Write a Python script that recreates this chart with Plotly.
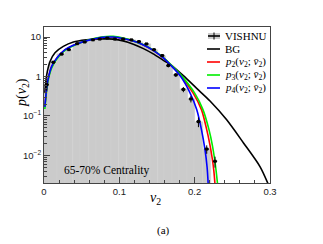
import plotly.graph_objects as go

# ---------------- data ----------------
# VISHNU histogram points
vishnu_x = [0.0036, 0.0124, 0.0234, 0.033, 0.044, 0.054, 0.065, 0.074, 0.084, 0.094, 0.105,
            0.116, 0.126, 0.136, 0.146, 0.157, 0.165, 0.175, 0.185, 0.195, 0.205, 0.216, 0.227]
vishnu_y = [0.62, 2.3, 3.7, 4.8, 6.8, 7.5, 8.5, 8.9, 9.4, 8.9, 8.9,
            8.5, 7.7, 6.7, 4.8, 3.4, 1.9, 1.1, 0.47, 0.27, 0.072, 0.0145, 0.0071]
vishnu_err = [0.18, 0.2, 0.25, 0.3, 0.35, 0.35, 0.4, 0.4, 0.4, 0.4, 0.4,
              0.4, 0.35, 0.3, 0.3, 0.25, 0.2, 0.13, 0.07, 0.05, 0.02, 0.0035, 0.0022]

# Bessel-Gaussian
bg_x = [0.0011, 0.0036, 0.008, 0.0146, 0.0256, 0.039, 0.0567, 0.072, 0.085, 0.092, 0.105,
        0.1186, 0.132, 0.145, 0.158, 0.168, 0.185, 0.2027, 0.2204, 0.2425, 0.2646, 0.2867, 0.298]
bg_y = [0.38, 1.1, 2.4, 4.0, 5.8, 7.5, 8.5, 8.95, 9.0, 8.85, 8.0,
        6.6, 5.1, 3.75, 2.6, 2.0, 1.05, 0.5, 0.24, 0.08, 0.021, 0.0052, 0.0018]

# p2 (red)
p2_x = [0.0011, 0.0036, 0.0057, 0.0102, 0.0168, 0.0279, 0.0434, 0.061, 0.0788, 0.092, 0.105,
        0.1186, 0.132, 0.145, 0.158, 0.168, 0.1815, 0.198, 0.209, 0.216, 0.2204, 0.2235, 0.2255, 0.227]
p2_y = [0.17, 0.5, 0.9, 1.78, 2.88, 4.75, 6.7, 8.55, 9.95, 10.1, 9.25,
        7.95, 6.3, 4.6, 3.0, 2.0, 1.05, 0.38, 0.145, 0.045, 0.018, 0.008, 0.004, 0.0018]

# p3 (green)
p3_x = [0.0011, 0.0036, 0.0057, 0.0102, 0.0168, 0.0279, 0.0434, 0.061, 0.0788, 0.092, 0.105,
        0.1186, 0.132, 0.145, 0.158, 0.168, 0.1815, 0.2, 0.211, 0.219, 0.2235, 0.2265, 0.2285, 0.2305]
p3_y = [0.15, 0.46, 0.83, 1.65, 2.75, 4.6, 6.6, 8.6, 10.2, 10.4, 9.4,
        8.0, 6.35, 4.65, 3.05, 2.05, 1.1, 0.38, 0.145, 0.045, 0.018, 0.008, 0.004, 0.0018]

# p4 (blue)
p4_x = [0.0011, 0.0036, 0.0057, 0.0102, 0.0168, 0.0279, 0.0434, 0.061, 0.0788, 0.092, 0.105,
        0.1186, 0.132, 0.145, 0.158, 0.168, 0.1815, 0.194, 0.2027, 0.209, 0.2137, 0.2165, 0.218]
p4_y = [0.17, 0.51, 0.91, 1.8, 2.9, 4.8, 6.7, 8.5, 9.9, 10.0, 9.2,
        7.9, 6.3, 4.6, 3.0, 1.95, 1.0, 0.38, 0.145, 0.045, 0.014, 0.005, 0.0018]

legend_labels = ["VISHNU", "BG",
                 "<i>p</i><sub>2</sub>(<i>v</i><sub>2</sub>; <i>v̄</i><sub>2</sub>)",
                 "<i>p</i><sub>3</sub>(<i>v</i><sub>2</sub>; <i>v̄</i><sub>2</sub>)",
                 "<i>p</i><sub>4</sub>(<i>v</i><sub>2</sub>; <i>v̄</i><sub>2</sub>)"]
y_tickvals = [0.01, 0.1, 1, 10]
y_ticktext = ["10<sup>−2</sup>", "10<sup>−1</sup>", "1", "10"]
x_tickvals = [0, 0.1, 0.2, 0.3]
x_ticktext = ["0", "0.1", "0.2", "0.3"]

# ---------------- figure ----------------
W, H = 323, 244
OFF = 8  # page body margin offset
L, R, T, B = 44, 270, 27, 183   # plot frame in screen pixels
SERIF = "Liberation Serif"
SANS = "Liberation Sans"

fig = go.Figure()

# gray histogram
fig.add_trace(go.Bar(x=vishnu_x[:-1], y=vishnu_y[:-1], width=0.0112,
                     marker=dict(color="#cbcbcb", line=dict(color="#d3d3d3", width=0.4)),
                     showlegend=False, hoverinfo="skip"))

line_w = 1.6
for xs, ys, col in [(bg_x, bg_y, "black"), (p2_x, p2_y, "#ff0000"),
                    (p3_x, p3_y, "#00ee00"), (p4_x, p4_y, "#0000ff")]:
    fig.add_trace(go.Scatter(x=xs, y=ys, mode="lines",
                             line=dict(color=col, width=line_w, shape="spline", smoothing=0.8),
                             showlegend=False))

# data points with error crosses
fig.add_trace(go.Scatter(x=vishnu_x, y=vishnu_y, mode="markers",
                         marker=dict(color="black", size=3, symbol="square"),
                         error_y=dict(type="data", array=vishnu_err, color="black", thickness=1, width=0),
                         error_x=dict(type="constant", value=0.0028, color="black", thickness=1.6, width=0),
                         showlegend=False))

minor_y = [m * 10 ** e for e in range(-3, 2) for m in range(2, 10) if 0.002 <= m * 10 ** e <= 18]

fig.update_layout(
    width=W, height=H,
    margin=dict(l=L - OFF, r=W - (R - OFF), t=T - OFF, b=H - (B - OFF), autoexpand=False),
    paper_bgcolor="white", plot_bgcolor="white",
    bargap=0, barmode="overlay",
    showlegend=False,
    xaxis=dict(range=[0, 0.3], tickvals=x_tickvals, ticktext=x_ticktext,
               ticks="inside", ticklen=6, tickcolor="#444", tickwidth=1,
               minor=dict(ticks="inside", ticklen=3, dtick=0.02, tickcolor="#444", showgrid=False),
               showline=True, linecolor="#444", linewidth=1, mirror=True,
               showgrid=False, zeroline=False, automargin=False,
               tickfont=dict(family=SANS, size=9.5, color="#222")),
    yaxis=dict(type="log", range=[-2.699, 1.255], tickvals=y_tickvals, ticktext=y_ticktext,
               ticks="inside", ticklen=6, tickcolor="#444", tickwidth=1,
               minor=dict(ticks="inside", ticklen=3, tickmode="array", tickvals=minor_y,
                          tickcolor="#444", showgrid=False),
               showline=True, linecolor="#444", linewidth=1, mirror=True,
               showgrid=False, zeroline=False, automargin=False,
               tickfont=dict(family=SANS, size=9.5, color="#222")),
)

def px(xp):
    return (xp - L) / (R - L)

def py(yp):
    return (B - yp) / (B - T)

def note(text, x, y, size, xanchor="center", angle=0):
    return dict(text=text, x=px(x), y=py(y), xref="paper", yref="paper",
                xanchor=xanchor, yanchor="middle", showarrow=False, textangle=angle,
                font=dict(family=SERIF, size=size, color="black"))

ann = [
    note("<i>p</i>(<i>v</i><sub>2</sub>)", 22, 93, 14, angle=-90),
    note("<i>v</i><sub>2</sub>", 155, 198, 14),
    note("(a)", 163, 230, 11),
    note("65-70% Centrality", 62, 170, 11.5, xanchor="left"),
]

# manual legend
rows = [36, 49, 62, 75, 88]
colors = [None, "black", "#ff0000", "#00ee00", "#0000ff"]
shapes = []
for lab, ry, col in zip(legend_labels, rows, colors):
    ann.append(note(lab, 223, ry, 11, xanchor="left"))
    if col is None:
        shapes.append(dict(type="rect", xref="paper", yref="paper", x0=px(208), x1=px(220),
                           y0=py(39), y1=py(33), fillcolor="#cbcbcb", line=dict(width=0)))
        shapes.append(dict(type="line", xref="paper", yref="paper", x0=px(208), x1=px(220),
                           y0=py(ry), y1=py(ry), line=dict(color="black", width=1.6)))
        shapes.append(dict(type="line", xref="paper", yref="paper", x0=px(214), x1=px(214),
                           y0=py(ry - 3.5), y1=py(ry + 3.5), line=dict(color="black", width=1)))
    else:
        shapes.append(dict(type="line", xref="paper", yref="paper", x0=px(207), x1=px(220),
                           y0=py(ry), y1=py(ry), line=dict(color=col, width=1.6)))

fig.update_layout(annotations=ann, shapes=shapes)
fig.write_html("out.html")
